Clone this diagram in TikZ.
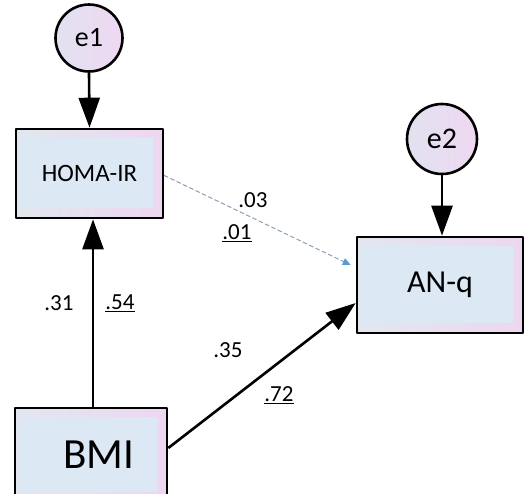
\documentclass[tikz,border=0pt]{standalone}
\usepackage{fontspec}
\setmainfont{Carlito}
\usetikzlibrary{arrows.meta}
\definecolor{boxleft}{HTML}{E2E7EF}
\definecolor{boxright}{HTML}{EDD7F0}
\definecolor{boxinner}{HTML}{DCE8F4}
\definecolor{errleft}{HTML}{E1E2F0}
\definecolor{errright}{HTML}{EFD8F2}
\definecolor{dashline}{HTML}{8A9DB5}
\definecolor{dashtip}{HTML}{5B9BD5}

\begin{document}
\begin{tikzpicture}[line cap=round,line join=round,x=1pt,y=-1pt,
  >={Triangle[length=30pt,width=21pt]},
  observed/.style={draw,line width=2.6pt,rectangle,inner sep=0pt,
    left color=boxleft,right color=boxright,
    path picture={\fill[boxinner] ([shift={(4pt,-9pt)}]path picture bounding box.north west)
      rectangle ([shift={(-10pt,10pt)}]path picture bounding box.south east);}},
  error/.style={draw,line width=2.6pt,circle,inner sep=0pt,
    left color=errleft,right color=errright},
  path/.style={line width=2.6pt,->,line cap=butt},
  weak/.style={dashline,line width=1pt,dash pattern=on 4pt off 3pt,
    -{Triangle[length=8pt,width=7pt,color=dashtip]}},
  coef/.style={font=\fontsize{23}{26}\selectfont,inner sep=0pt}]
\useasboundingbox (0,0) rectangle (525,493);
\clip (0,0) rectangle (525,493);

% latent error terms
\node[error,minimum size=67pt,font=\fontsize{28}{30}\selectfont] (e1) at (89,38) {e1};
\node[error,minimum size=70pt,font=\fontsize{30}{32}\selectfont] (e2) at (442,139) {e2};

% observed variables
\node[observed,minimum width=147pt,minimum height=89pt,font=\fontsize{25}{28}\selectfont] (homa) at (89.5,173.5) {\raisebox{-2pt}{HOMA-IR}};
\node[observed,minimum width=166pt,minimum height=96pt,font=\fontsize{32}{36}\selectfont] (anq) at (440,285) {\raisebox{-5pt}{AN-q}};
\node[observed,minimum width=152pt,minimum height=94pt,font=\fontsize{43}{46}\selectfont] (bmi) at (91,455) {\hspace*{16pt}BMI};

% paths
\draw[path] (e1.south) -- (homa.north);
\draw[path] (e2.south) -- (e2.south |- anq.north);
\draw[path] ([xshift=2pt]bmi.north) -- ([xshift=2pt]bmi.north |- homa.south);
\draw[path] ([yshift=7pt]bmi.east) -- ([yshift=-18pt]anq.west);
\draw[weak] ([yshift=-2pt]homa.east) -- ([shift={(-5pt,20pt)}]anq.west);

% coefficients
\node[coef] (c03) at (253,200) {.03};
\node[coef] (c01) at (237,233) {\underline{.01}};
\node[coef] (c35) at (228,350) {.35};
\node[coef] (c72) at (279,395) {\underline{.72}};
\node[coef] (c31) at (59,303) {.31};
\node[coef] (c54) at (120,303) {\underline{.54}};
\end{tikzpicture}
\end{document}
